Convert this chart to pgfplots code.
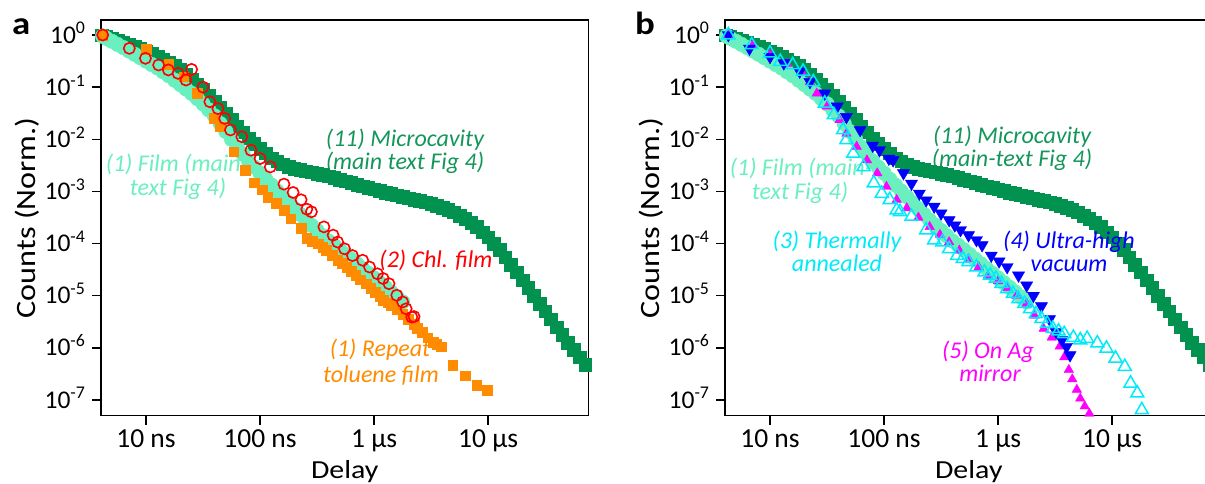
\documentclass[border=0pt]{standalone}
\usepackage{fontspec}
\setmainfont{Carlito}
\newfontfamily\widefont{Carlito}[FakeStretch=1.15]
\usepackage{pgfplots}
\pgfplotsset{compat=1.18}
\definecolor{mcgreen}{RGB}{0,146,78}
\definecolor{mctext}{RGB}{20,150,90}
\definecolor{film}{RGB}{105,240,190}
\definecolor{orng}{RGB}{255,140,0}
\definecolor{chl}{RGB}{255,0,0}
\definecolor{uhv}{RGB}{0,0,255}
\definecolor{ann}{RGB}{0,235,250}
\definecolor{ag}{RGB}{255,0,255}
\newcommand{\annfont}{\fontsize{24}{24}\selectfont\itshape}
\begin{document}
\begin{tikzpicture}
\useasboundingbox (0,0) rectangle (1205pt,484pt);
\clip (0,0) rectangle (1205pt,484pt);
% annotations (drawn under the data)
\begin{scope}[every node/.style={inner sep=0pt, anchor=base, font=\annfont}]
\node[text=mctext] at (405pt,337.5pt) {(11) Microcavity};
\node[text=mctext] at (405pt,314.5pt) {(main text Fig 4)};
\node[text=film] at (177pt,312pt) {(1) Film (main-};
\node[text=film] at (178pt,288.5pt) {text Fig 4)};
\node[text=chl] at (436pt,216pt) {(2) Chl. film};
\node[text=orng] at (380pt,127pt) {(1) Repeat};
\node[text=orng] at (381pt,101pt) {toluene film};
\node[text=mctext] at (1012pt,340pt) {(11) Microcavity};
\node[text=mctext] at (1012pt,317pt) {(main-text Fig 4)};
\node[text=film] at (801pt,308pt) {(1) Film (main-};
\node[text=film] at (800pt,284pt) {text Fig 4)};
\node[text=ann] at (837pt,235.5pt) {(3) Thermally};
\node[text=ann] at (837pt,212pt) {annealed};
\node[text=ag] at (988pt,125.5pt) {(5) On Ag};
\node[text=ag] at (990pt,102pt) {mirror};
\end{scope}
\node[anchor=base west, inner sep=0pt, font=\widefont\fontsize{32}{32}\selectfont\bfseries] at (12pt,449pt) {a};
\node[anchor=base west, inner sep=0pt, font=\widefont\fontsize{32}{32}\selectfont\bfseries] at (635pt,449pt) {b};
% ---------------- panel a ----------------
\begin{axis}[at={(101pt,68.3pt)}, anchor=south west,
  xmode=log, ymode=log, scale only axis, width=487.6pt, height=395.7pt,
  xmin=4.03, xmax=76000, ymin=5.0e-8, ymax=1.94,
  xtick={10,100,1000,10000}, xticklabels={10 ns,100 ns,1 µs,10 µs},
  ytick={1,0.1,0.01,0.001,1e-4,1e-5,1e-6,1e-7},
  yticklabels={10\textsuperscript{0},10\textsuperscript{-1},10\textsuperscript{-2},10\textsuperscript{-3},10\textsuperscript{-4},10\textsuperscript{-5},10\textsuperscript{-6},10\textsuperscript{-7}},
  tick align=outside, xtick pos=bottom, ytick pos=left,
  major tick length=9pt, minor tick length=0pt,
  axis line style={line width=1.5pt},
  every tick/.style={black, line width=1.5pt},
  xticklabel style={font=\fontsize{27.5}{27.5}\selectfont, anchor=base, yshift=-22.5pt},
  yticklabel style={font=\fontsize{25.5}{25.5}\selectfont, anchor=base east, yshift=-8pt, xshift=-3pt},
  xlabel={Delay},
  xlabel style={font=\widefont\fontsize{26}{26}\selectfont, at={(axis description cs:0.5,-0.158)}, anchor=base},
  ylabel={Counts (Norm.)},
  ylabel style={font=\widefont\fontsize{28}{28}\selectfont, at={(axis description cs:-0.1518,0.5)}, anchor=center}]
\addplot[only marks, mark=square*, mark size=6.3pt, draw=mcgreen, fill=mcgreen] coordinates {(4.1,0.99)(4.47,0.923)(5.01,0.851)(5.62,0.785)(6.31,0.724)(7.08,0.661)(7.94,0.603)(8.91,0.543)(10,0.490)(11.2,0.437)(12.6,0.389)(14.1,0.343)(15.8,0.302)(17.8,0.263)(20.0,0.219)(22.4,0.174)(25.1,0.141)(28.2,0.112)(31.6,0.0891)(35.5,0.0684)(39.8,0.0525)(44.7,0.0407)(50.1,0.0316)(56.2,0.0237)(63.1,0.0178)(70.8,0.0136)(79.4,0.0105)(89.1,8.32e-3)(100,6.61e-3)(112,5.37e-3)(126,4.37e-3)(141,3.80e-3)(158,3.31e-3)(178,3.02e-3)(200,2.75e-3)(224,2.60e-3)(251,2.45e-3)(282,2.32e-3)(316,2.19e-3)(355,2.07e-3)(398,1.95e-3)(447,1.82e-3)(501,1.70e-3)(562,1.58e-3)(631,1.48e-3)(708,1.36e-3)(794,1.26e-3)(891,1.17e-3)(1000,1.10e-3)(1120,1.02e-3)(1260,9.55e-4)(1410,9.02e-4)(1580,8.51e-4)(1780,7.94e-4)(2000,7.41e-4)(2240,7.00e-4)(2510,6.61e-4)(2820,6.17e-4)(3160,5.75e-4)(3550,5.31e-4)(3980,4.90e-4)(4470,4.42e-4)(5010,3.98e-4)(5620,3.47e-4)(6310,3.02e-4)(7080,2.51e-4)(7940,2.09e-4)(8910,1.66e-4)(10000,1.32e-4)(11200,1.00e-4)(12600,7.59e-5)(14100,5.50e-5)(15800,3.98e-5)(17800,2.82e-5)(20000,2.00e-5)(22400,1.41e-5)(25100,1.00e-5)(28200,7.08e-6)(31600,5.01e-6)(35500,3.55e-6)(39800,2.51e-6)(44700,1.78e-6)(50100,1.26e-6)(56200,9.12e-7)(63100,6.61e-7)(70800,4.79e-7)};
\addplot[only marks, mark=*, mark size=7.3pt, draw=film, fill=film] coordinates {(4.17,0.955)(4.47,0.871)(5.01,0.759)(5.62,0.661)(6.31,0.575)(7.08,0.495)(7.94,0.427)(8.91,0.367)(10,0.316)(11.2,0.272)(12.6,0.234)(14.1,0.197)(15.8,0.166)(17.8,0.136)(20.0,0.112)(22.4,0.0923)(25.1,0.0759)(28.2,0.0603)(31.6,0.0479)(35.5,0.0367)(39.8,0.0282)(44.7,0.0200)(50.1,0.0141)(56.2,0.0100)(63.1,7.08e-3)(70.8,5.19e-3)(79.4,3.80e-3)(89.1,2.92e-3)(100,2.24e-3)(112,1.72e-3)(126,1.32e-3)(141,1.02e-3)(158,7.94e-4)(178,6.10e-4)(200,4.68e-4)(224,3.63e-4)(251,2.82e-4)(282,2.24e-4)(316,1.78e-4)(355,1.41e-4)(398,1.12e-4)(447,9.23e-5)(501,7.59e-5)(562,6.17e-5)(631,5.01e-5)(708,4.07e-5)(794,3.31e-5)(891,2.69e-5)(1000,2.19e-5)(1120,1.78e-5)(1260,1.45e-5)(1410,1.17e-5)(1580,9.55e-6)(1780,7.59e-6)};
\addplot[only marks, mark=square*, mark size=4.8pt, draw=orng, fill=orng] coordinates {(4.17,1.0)(10,0.537)(15.8,0.278)(21.4,0.158)(28.2,0.0759)(39.8,0.0251)(44.7,0.0174)(58.9,5.75e-3)(74.1,2.57e-3)(89.1,1.48e-3)(105,1.07e-3)(117,7.76e-4)(138,5.89e-4)(162,4.37e-4)(186,3.02e-4)(229,1.95e-4)(257,1.26e-4)(288,1.12e-4)(324,1.00e-4)(355,8.51e-5)(380,7.41e-5)(427,6.03e-5)(479,4.79e-5)(525,4.17e-5)(575,3.55e-5)(631,2.95e-5)(692,2.45e-5)(759,2.04e-5)(851,1.70e-5)(933,1.41e-5)(1020,1.17e-5)(1120,9.77e-6)(1200,8.13e-6)(1320,7.41e-6)(1410,6.61e-6)(1580,5.37e-6)(1780,4.47e-6)(2000,3.55e-6)(2240,2.88e-6)(2400,2.40e-6)(2630,2.00e-6)(2950,1.58e-6)(3310,1.29e-6)(3550,1.17e-6)(3890,1.05e-6)(4900,4.68e-7)(6310,2.95e-7)(7940,1.91e-7)(9770,1.55e-7)};
\addplot[only marks, mark=o, mark size=5.6pt, draw=chl, line width=1.6pt] coordinates {(4.17,1.0)(7.14,0.555)(9.89,0.357)(12.9,0.266)(15.7,0.214)(19.1,0.184)(22.4,0.137)(25.1,0.219)(31.6,0.100)(36.3,0.0525)(42.7,0.0389)(49.0,0.0251)(55.0,0.0151)(69.2,0.0112)(83.2,6.17e-3)(100,4.27e-3)(123,2.95e-3)(162,1.38e-3)(195,9.55e-4)(229,6.92e-4)(257,4.57e-4)(282,4.07e-4)(363,2.09e-4)(437,1.45e-4)(479,1.07e-4)(550,7.94e-5)(646,5.89e-5)(794,4.79e-5)(912,3.55e-5)(1070,2.63e-5)(1200,2.14e-5)(1350,1.70e-5)(1580,1.02e-5)(1780,7.59e-6)(1910,5.62e-6)(2140,3.89e-6)(2240,3.98e-6)};
\end{axis}
% ---------------- panel b ----------------
\begin{axis}[at={(725pt,68.3pt)}, anchor=south west,
  xmode=log, ymode=log, scale only axis, width=487.6pt, height=395.7pt,
  xmin=4.03, xmax=76000, ymin=5.0e-8, ymax=1.94,
  xtick={10,100,1000,10000}, xticklabels={10 ns,100 ns,1 µs,10 µs},
  ytick={1,0.1,0.01,0.001,1e-4,1e-5,1e-6,1e-7},
  yticklabels={10\textsuperscript{0},10\textsuperscript{-1},10\textsuperscript{-2},10\textsuperscript{-3},10\textsuperscript{-4},10\textsuperscript{-5},10\textsuperscript{-6},10\textsuperscript{-7}},
  tick align=outside, xtick pos=bottom, ytick pos=left,
  major tick length=9pt, minor tick length=0pt,
  axis line style={line width=1.5pt},
  every tick/.style={black, line width=1.5pt},
  xticklabel style={font=\fontsize{27.5}{27.5}\selectfont, anchor=base, yshift=-22.5pt},
  yticklabel style={font=\fontsize{25.5}{25.5}\selectfont, anchor=base east, yshift=-8pt, xshift=-3pt},
  xlabel={Delay},
  xlabel style={font=\widefont\fontsize{26}{26}\selectfont, at={(axis description cs:0.5,-0.158)}, anchor=base},
  ylabel={Counts (Norm.)},
  ylabel style={font=\widefont\fontsize{28}{28}\selectfont, at={(axis description cs:-0.1518,0.5)}, anchor=center}]
\addplot[only marks, mark=square*, mark size=6.3pt, draw=mcgreen, fill=mcgreen] coordinates {(4.1,0.99)(4.47,0.923)(5.01,0.851)(5.62,0.785)(6.31,0.724)(7.08,0.661)(7.94,0.603)(8.91,0.543)(10,0.490)(11.2,0.437)(12.6,0.389)(14.1,0.343)(15.8,0.302)(17.8,0.263)(20.0,0.219)(22.4,0.174)(25.1,0.141)(28.2,0.112)(31.6,0.0891)(35.5,0.0684)(39.8,0.0525)(44.7,0.0407)(50.1,0.0316)(56.2,0.0237)(63.1,0.0178)(70.8,0.0136)(79.4,0.0105)(89.1,8.32e-3)(100,6.61e-3)(112,5.37e-3)(126,4.37e-3)(141,3.80e-3)(158,3.31e-3)(178,3.02e-3)(200,2.75e-3)(224,2.60e-3)(251,2.45e-3)(282,2.32e-3)(316,2.19e-3)(355,2.07e-3)(398,1.95e-3)(447,1.82e-3)(501,1.70e-3)(562,1.58e-3)(631,1.48e-3)(708,1.36e-3)(794,1.26e-3)(891,1.17e-3)(1000,1.10e-3)(1120,1.02e-3)(1260,9.55e-4)(1410,9.02e-4)(1580,8.51e-4)(1780,7.94e-4)(2000,7.41e-4)(2240,7.00e-4)(2510,6.61e-4)(2820,6.17e-4)(3160,5.75e-4)(3550,5.31e-4)(3980,4.90e-4)(4470,4.42e-4)(5010,3.98e-4)(5620,3.47e-4)(6310,3.02e-4)(7080,2.51e-4)(7940,2.09e-4)(8910,1.66e-4)(10000,1.32e-4)(11200,1.00e-4)(12600,7.59e-5)(14100,5.50e-5)(15800,3.98e-5)(17800,2.82e-5)(20000,2.00e-5)(22400,1.41e-5)(25100,1.00e-5)(28200,7.08e-6)(31600,5.01e-6)(35500,3.55e-6)(39800,2.51e-6)(44700,1.78e-6)(50100,1.26e-6)(56200,9.12e-7)(63100,6.61e-7)(70800,4.79e-7)};
\addplot[only marks, mark=*, mark size=7.3pt, draw=film, fill=film] coordinates {(4.17,0.955)(4.47,0.871)(5.01,0.759)(5.62,0.661)(6.31,0.575)(7.08,0.495)(7.94,0.427)(8.91,0.367)(10,0.316)(11.2,0.272)(12.6,0.234)(14.1,0.197)(15.8,0.166)(17.8,0.136)(20.0,0.112)(22.4,0.0923)(25.1,0.0759)(28.2,0.0603)(31.6,0.0479)(35.5,0.0367)(39.8,0.0282)(44.7,0.0200)(50.1,0.0141)(56.2,0.0100)(63.1,7.08e-3)(70.8,5.19e-3)(79.4,3.80e-3)(89.1,2.92e-3)(100,2.24e-3)(112,1.72e-3)(126,1.32e-3)(141,1.02e-3)(158,7.94e-4)(178,6.10e-4)(200,4.68e-4)(224,3.63e-4)(251,2.82e-4)(282,2.24e-4)(316,1.78e-4)(355,1.41e-4)(398,1.12e-4)(447,9.23e-5)(501,7.59e-5)(562,6.17e-5)(631,5.01e-5)(708,4.07e-5)(794,3.31e-5)(891,2.69e-5)(1000,2.19e-5)(1120,1.78e-5)(1260,1.45e-5)(1410,1.17e-5)(1580,9.55e-6)(1780,7.59e-6)};
\addplot[only marks, mark=triangle*, mark size=5.5pt, draw=ag, fill=ag] coordinates {(4.31,1.0)(7.08,0.646)(10,0.417)(14.1,0.282)(19.1,0.191)(22.4,0.126)(25.7,0.0759)(31.6,0.0427)(40.7,0.0234)(46.8,0.0129)(57.5,7.24e-3)(70.8,3.98e-3)(87.1,2.24e-3)(105,1.23e-3)(129,6.92e-4)(158,4.79e-4)(200,3.16e-4)(251,2.09e-4)(309,1.48e-4)(372,1.07e-4)(457,7.41e-5)(550,5.13e-5)(676,3.55e-5)(813,2.40e-5)(1000,1.91e-5)(1200,1.41e-5)(1450,1.00e-5)(1780,7.08e-6)(2090,4.17e-6)(2510,2.34e-6)(2950,1.58e-6)(3470,1.07e-6)(3800,6.61e-7)(4170,3.80e-7)(4470,2.51e-7)(4900,1.58e-7)(5250,1.07e-7)(5750,7.59e-8)(6310,5.50e-8)};
\addplot[only marks, mark=triangle*, mark size=7pt, draw=uhv, fill=uhv, mark options={rotate=180}] coordinates {(4.31,1.0)(6.61,0.550)(10,0.380)(13.2,0.288)(18.2,0.200)(22.4,0.126)(30.2,0.0759)(38.9,0.0427)(46.8,0.0269)(61.7,0.0151)(79.4,7.59e-3)(91.2,6.17e-3)(110,4.27e-3)(120,3.98e-3)(148,2.24e-3)(174,1.41e-3)(204,9.12e-4)(234,6.76e-4)(275,5.13e-4)(316,3.80e-4)(372,2.82e-4)(417,2.24e-4)(468,1.82e-4)(550,1.45e-4)(646,1.17e-4)(724,9.33e-5)(871,5.89e-5)(1020,4.57e-5)(1200,3.55e-5)(1510,2.45e-5)(1780,1.58e-5)(2040,1.00e-5)(2400,6.31e-6)(2820,3.55e-6)(3240,2.00e-6)(3630,1.41e-6)(3980,1.05e-6)(4270,7.24e-7)};
\addplot[only marks, mark=triangle, mark size=7.5pt, draw=ann, line width=1.5pt] coordinates {(4.31,1.0)(6.92,0.646)(10,0.447)(12.3,0.309)(15.8,0.266)(19.5,0.200)(24.0,0.126)(30.2,0.0490)(36.3,0.0295)(43.7,0.0151)(46.8,9.77e-3)(53.7,5.37e-3)(66.1,2.95e-3)(81.3,1.45e-3)(95.5,9.12e-4)(112,6.92e-4)(129,4.37e-4)(138,4.07e-4)(174,3.31e-4)(234,1.82e-4)(275,1.17e-4)(324,1.07e-4)(372,7.94e-5)(437,5.89e-5)(490,5.13e-5)(550,4.47e-5)(646,3.55e-5)(759,2.82e-5)(851,2.45e-5)(955,2.14e-5)(1070,1.70e-5)(1200,1.35e-5)(1350,1.10e-5)(1510,8.71e-6)(1700,7.08e-6)(1910,5.62e-6)(2140,4.47e-6)(2400,3.63e-6)(2690,2.95e-6)(3020,2.34e-6)(3390,2.09e-6)(3800,1.86e-6)(4570,1.58e-6)(5250,1.41e-6)(6030,1.51e-6)(7410,1.23e-6)(8910,9.77e-7)(10700,6.31e-7)(12900,4.37e-7)(14500,2.09e-7)(16600,1.35e-7)(18200,6.46e-8)};
\end{axis}
% labels drawn over the data
\begin{scope}[every node/.style={inner sep=0pt, anchor=base, font=\annfont}]
\node[text=uhv] at (1069pt,235.7pt) {(4) Ultra-high};
\node[text=uhv] at (1069pt,212.3pt) {vacuum};
\end{scope}
\end{tikzpicture}
\end{document}
